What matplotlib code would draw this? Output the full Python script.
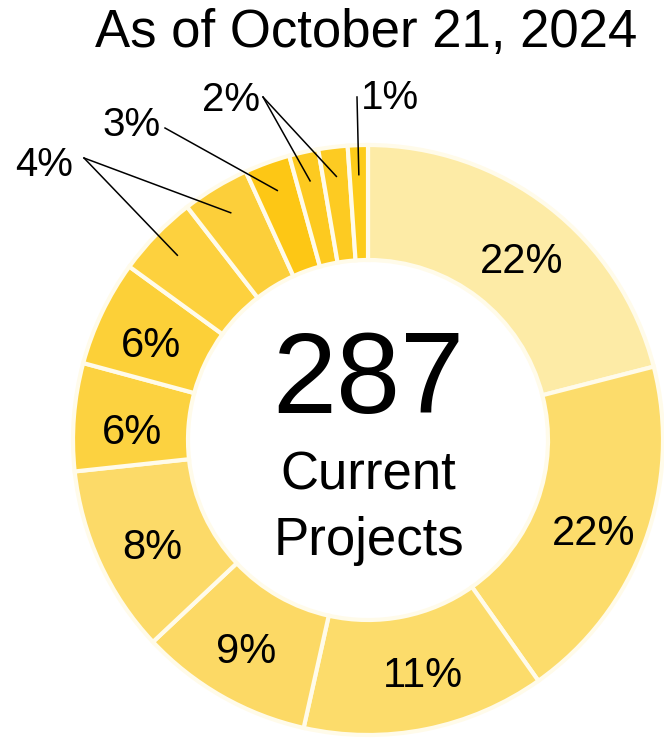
import numpy as np
import matplotlib.pyplot as plt

plt.rcParams['font.family'] = ['Liberation Sans', 'DejaVu Sans']

# data
title = "As of October 21, 2024"
total_projects = 287
caption_lines = ["Current", "Projects"]
# printed percentages, clockwise from 12 o'clock
pct_labels = ["22%", "22%", "11%", "9%", "8%", "6%", "6%", "4%", "4%", "3%", "2%", "2%", "1%"]
# arc sizes as drawn in the picture (measured angles, % of the ring)
arc_sizes = [21.0, 19.2, 13.3, 9.5, 10.3, 5.9, 5.8, 4.5, 3.7, 2.5, 1.6, 1.6, 1.1]
colors = ["#FDEBA6", "#FCDC6B", "#FCDC6B", "#FCD965", "#FCDA68", "#FCD240",
          "#FCD038", "#FDD13E", "#FCCF3A", "#FDC715", "#FDCA20", "#FDCB22",
          "#FDCC1A"]

# small slices get outside labels with leader lines: (text, slice indexes)
outside_groups = [("4%", [7, 8]), ("3%", [9]), ("2%", [10, 11]), ("1%", [12])]

W, H = 664, 739


def px(x, y):
    # pixel coords (top-left origin) -> data coords
    return x, H - y


def plot_donut():
    fig = plt.figure(figsize=(W / 100, H / 100), dpi=100)
    ax = fig.add_axes([0, 0, 1, 1])

    cx, cy = px(368, 440)
    R = 295
    ring = 115
    wedges, _ = ax.pie(arc_sizes, colors=colors, startangle=90, counterclock=False,
                       radius=R, center=(cx, cy), frame=True,
                       wedgeprops=dict(width=ring, edgecolor='#FFFBEA', linewidth=3))
    ax.set_xlim(0, W)
    ax.set_ylim(0, H)
    ax.set_aspect('equal')
    ax.axis('off')

    def mid(i, r):
        w = wedges[i]
        a = np.deg2rad((w.theta1 + w.theta2) / 2)
        return cx + r * np.cos(a), cy + r * np.sin(a)

    # labels inside the ring (baseline positions in pixels)
    inside_pos = [(522, 273), (594, 545), (423, 687), (246, 663),
                  (152, 559), (151, 357), (132, 444)]
    for lab, (x, y) in zip(pct_labels[:7], inside_pos):
        ax.text(*px(x, y), lab, fontsize=30, ha='center', va='baseline')

    # outside labels with leader lines
    text_pos = {"4%": (44, 176), "3%": (132, 136), "2%": (231, 111), "1%": (390, 109)}
    line_start = {"4%": (84, 158), "3%": (165, 128), "2%": (263, 97), "1%": (357, 97)}
    for lab, idx in outside_groups:
        ax.text(*px(*text_pos[lab]), lab, fontsize=29, ha='center', va='baseline')
        sx, sy = px(*line_start[lab])
        for i in idx:
            ex, ey = mid(i, R * 0.9)
            ax.plot([sx, ex], [sy, ey], color='black', lw=1.1)

    # center text
    ax.text(*px(368, 413), str(total_projects), fontsize=83, ha='center', va='baseline')
    ax.text(*px(368, 490), caption_lines[0], fontsize=38, ha='center', va='baseline')
    ax.text(*px(369, 555), caption_lines[1], fontsize=38, ha='center', va='baseline')

    ax.text(*px(366, 47), title, fontsize=38, ha='center', va='baseline')

    fig.savefig("out.png", dpi=100)
    plt.close(fig)


def main():
    plot_donut()


if __name__ == "__main__":
    main()
